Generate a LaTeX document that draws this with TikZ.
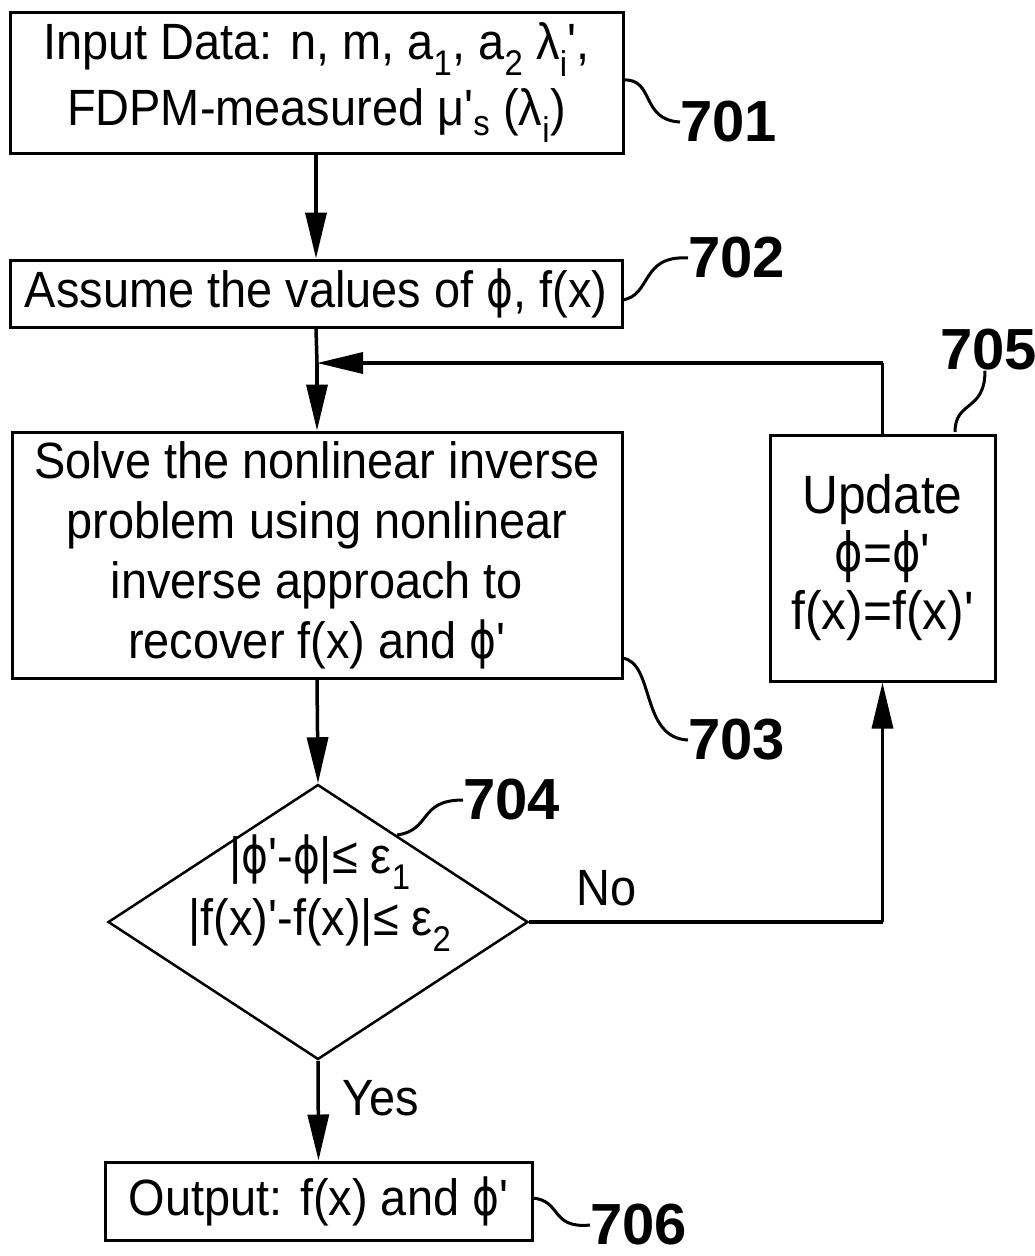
\documentclass[tikz,border=0pt]{standalone}
\usepackage{fontspec}
\setmainfont[FakeStretch=0.92,Ligatures=TeXOff]{Liberation Sans}
\newfontfamily\labfont{Liberation Sans}
\newfontfamily\phifont[FakeStretch=0.8]{DejaVu Sans}
\usetikzlibrary{arrows.meta,shapes.geometric}
\newcommand{\sbs}[1]{\textsubscript{#1}}
\newcommand{\ph}{{\phifont ϕ}}
\begin{document}
\begin{tikzpicture}[x=1pt,y=-1pt,
  box/.style={draw,line width=3pt,inner sep=0pt,align=center,font=\fontsize{51}{60}\selectfont},
  conn/.style={line width=3.5pt},
  arr/.style={conn,-{Triangle[length=46pt,width=21pt]}},
  lab/.style={font=\labfont\bfseries\fontsize{58}{60}\selectfont,inner sep=0pt},
  lead/.style={line width=3pt},
  txt/.style={font=\fontsize{51}{60}\selectfont,inner sep=0pt}]
\useasboundingbox (0,0) rectangle (1035,1256);
\node[box,minimum width=613pt,minimum height=141pt] (b1) at (316.5,82.5)
  {Input Data: n, m, a\sbs{1}, a\sbs{2} λ\sbs{i}',\\[6pt]FDPM-measured μ'\sbs{s} (λ\sbs{i})};
\node[box,minimum width=612pt,minimum height=67pt] (b2) at (316,293.5)
  {Assume the values of \ph, f(x)};
\node[box,minimum width=610pt,minimum height=246pt] (b3) at (317,555)
  {Solve the nonlinear inverse\\problem using nonlinear\\inverse approach to\\recover f(x) and \ph'};
\node[box,minimum width=225pt,minimum height=246pt,font=\fontsize{54}{58}\selectfont] (b5) at (882.5,558)
  {Update\\\ph=\ph'\\f(x)=f(x)'};
\node[draw,diamond,line width=2.5pt,minimum width=420pt,minimum height=275pt,inner sep=0pt] (d4) at (318,922) {};
\node[txt,align=center] (d4t) at (320,893)
  {|\ph'-\ph|≤ ε\sbs{1}\\[2pt]|f(x)'-f(x)|≤ ε\sbs{2}};
\node[box,minimum width=427pt,minimum height=78pt] (b6) at (318.5,1201)
  {Output: f(x) and \ph'};
% junction coordinates
\coordinate (j) at (b3.north |- 0,363);
\coordinate (r5) at (b5.north |- 0,363);
\coordinate (rn) at (b5.south |- d4.east);
% connectors
\draw[arr] (b1.south -| b2.north) -- (b2.north);
\draw[conn] (b2.south) -- (j);
\draw[arr] (j) -- (b3.north);
\draw[conn] (b5.north) -- (r5);
\draw[arr] (r5) -- (j);
\draw[arr] (b3.south) -- (d4.north);
\draw[conn] (d4.east) -- (rn);
\draw[arr] (rn) -- (b5.south);
\draw[arr] (d4.south) -- (b6.north);
\node[txt,anchor=west] (no) at (576,888) {No};
\node[txt,anchor=west] (yes) at (342,1098) {Yes};
% reference labels
\node[lab,anchor=west] (l1) at (680,122) {701};
\node[lab,anchor=west] (l2) at (688,258) {702};
\node[lab,anchor=west] (l3) at (688,740) {703};
\node[lab,anchor=west] (l4) at (463,800) {704};
\node[lab,anchor=west] (l5) at (940,350) {705};
\node[lab,anchor=west] (l6) at (590,1225) {706};
\draw[lead] (623,80) .. controls (655,78) and (640,120) .. (l1.west);
\draw[lead] (622,300) .. controls (652,296) and (640,255) .. (l2.west);
\draw[lead] (622,658) .. controls (655,662) and (640,738) .. (l3.west);
\draw[lead] (397,835) .. controls (432,830) and (418,800) .. (l4.west);
\draw[lead] (955,432) .. controls (955,400) and (985,412) .. (l5.south -| 985,0);
\draw[lead] (532,1198) .. controls (562,1200) and (550,1229) .. (l6.west);
\end{tikzpicture}
\end{document}
